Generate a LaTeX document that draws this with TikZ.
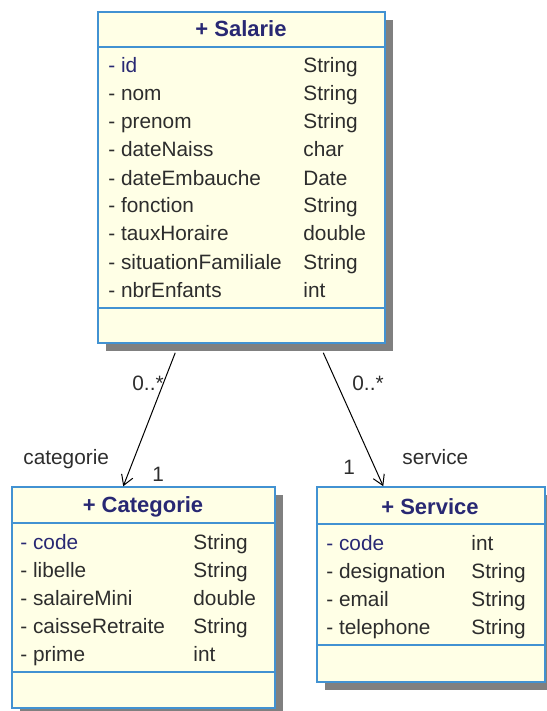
\documentclass[tikz,border=0pt]{standalone}
\usepackage{fontspec}
\setmainfont{Liberation Sans}
\usetikzlibrary{arrows.meta,calc,fit,shadows}

\definecolor{umlfill}{RGB}{255,255,230}
\definecolor{umlline}{RGB}{66,146,210}
\definecolor{umlnavy}{RGB}{40,40,115}
\definecolor{umltext}{RGB}{45,45,45}

\begin{document}
\begin{tikzpicture}[font=\fontsize{10.4}{12}\selectfont, x=0.5pt, y=-0.5pt,
  cls/.style={draw=umlline, line width=0.75pt, fill=umlfill, inner sep=0pt,
    drop shadow={shadow xshift=4pt, shadow yshift=-4pt, fill=black!50, opacity=1}},
  sep/.style={umlline, line width=0.75pt},
  title/.style={anchor=base, inner sep=0pt, text=umlnavy, font=\fontsize{11}{13}\selectfont\bfseries},
  attr/.style={anchor=base west, inner sep=0pt, text=umltext},
  lbl/.style={anchor=base west, inner sep=0pt, text=umltext},
  arr/.style={-{Straight Barb[length=5pt, width=6pt]}, line width=0.5pt}]
\useasboundingbox (0,0) rectangle (546,711);
\node[cls, fit={(98,12) (385,343)}] (salarie) {};
\node[cls, fit={(12,487) (275,708)}] (categorie) {};
\node[cls, fit={(317,487) (545,682)}] (service) {};
\draw[sep] (98,47) -- (385,47); \draw[sep] (98,308) -- (385,308);
\draw[sep] (12,523) -- (275,523); \draw[sep] (12,672) -- (275,672);
\draw[sep] (317,524) -- (545,524); \draw[sep] (317,645) -- (545,645);
\node[title] (t-salarie) at (241,37) {+ Salarie};
\node[title] (t-categorie) at (143,512) {+ Categorie};
\node[title] (t-service) at (430,514) {+ Service};
\foreach \i/\n/\t/\c in {0/id/String/umlnavy, 1/nom/String/umltext, 2/prenom/String/umltext, 3/dateNaiss/char/umltext, 4/dateEmbauche/Date/umltext, 5/fonction/String/umltext, 6/tauxHoraire/double/umltext, 7/situationFamiliale/String/umltext, 8/nbrEnfants/int/umltext} { \node[attr, text=\c] (s-\n) at (108,73+28*\i) {- \n}; \node[attr] (s-\n-t) at (303,73+28*\i) {\t}; }
\foreach \i/\n/\t/\c in {0/code/String/umlnavy, 1/libelle/String/umltext, 2/salaireMini/double/umltext, 3/caisseRetraite/String/umltext, 4/prime/int/umltext} { \node[attr, text=\c] (c-\n) at (20,549+28*\i) {- \n}; \node[attr] (c-\n-t) at (193,549+28*\i) {\t}; }
\foreach \i/\n/\t/\c in {0/code/int/umlnavy, 1/designation/String/umltext, 2/email/String/umltext, 3/telephone/String/umltext} { \node[attr, text=\c] (v-\n) at (326,550+28*\i) {- \n}; \node[attr] (v-\n-t) at (471,550+28*\i) {\t}; }
\draw[arr] ($(salarie.south west)+(78,9)$) -- ($(categorie.north west)+(112,0)$);
\draw[arr] ($(salarie.south west)+(226,9)$) -- ($(service.north west)+(67,0)$);
\node[lbl] (m-cat-s) at (132,390) {0..*};
\node[lbl] (m-cat-c) at (152,481) {1};
\node[lbl] (r-cat) at (23,464) {categorie};
\node[lbl] (m-ser-s) at (352,390) {0..*};
\node[lbl] (m-ser-v) at (343,474) {1};
\node[lbl] (r-ser) at (402,464) {service};
\end{tikzpicture}
\end{document}
